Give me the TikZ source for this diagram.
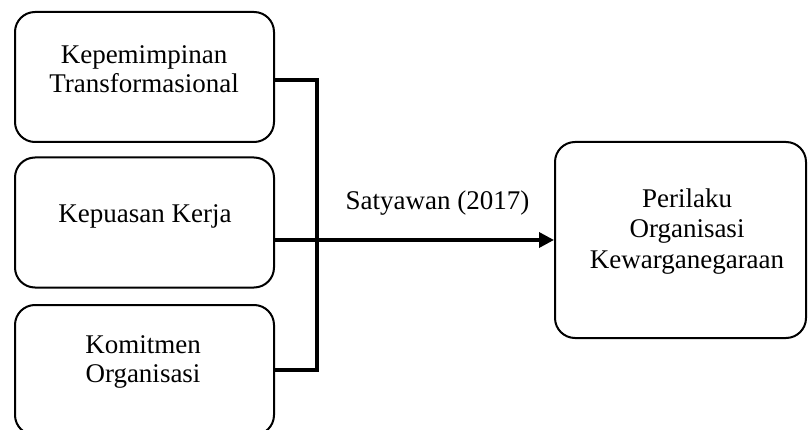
\documentclass[tikz,border=0pt]{standalone}
\usepackage{fontspec}
\setmainfont{Liberation Serif}
\usetikzlibrary{arrows.meta}
\tikzset{
	box/.style={draw, line width=2pt, rounded corners=20pt, minimum width=259pt, minimum height=130pt, inner sep=0pt},
	txt/.style={align=center, inner sep=0pt, font=\fontsize{27}{29}\selectfont},
	conn/.style={line width=3.5pt},
}

\begin{document}
\begin{tikzpicture}[x=1pt, y=-1pt]
			%%%%% START %%%%%
			
			\useasboundingbox (0, 0) rectangle (808, 430);
			
			\node[box] (kt) at (144.5, 77) {};
			\node[txt] (ktt) at (144, 69) {Kepemimpinan\\Transformasional};
			
			\node[box] (kp) at (144.5, 222.5) {};
			\node[txt] (kpt) at (145, 216.5) {Kepuasan Kerja};
			
			\node[box] (km) at (144.5, 370) {};
			\node[txt] (kmt) at (143, 362) {Komitmen\\Organisasi};
			
			\node[box, minimum width=251pt, minimum height=196pt] (pok) at (680.5, 240) {};
			\node[txt, font=\fontsize{27}{30.5}\selectfont] (pokt) at (687, 231.5) {Perilaku\\Organisasi\\Kewarganegaraan};
			
			\draw[conn] ([yshift=-3pt]kt.east) -- ++(42, 0) |- (km.east);
			\draw[conn, -{Triangle[length=15pt, width=15pt]}] (kp.east |- pok.west) -- (pok.west);
			
			\node[txt] (sat) at (437.5, 203) {Satyawan (2017)};
			
			%%%%% END %%%%%
\end{tikzpicture}
\end{document}
